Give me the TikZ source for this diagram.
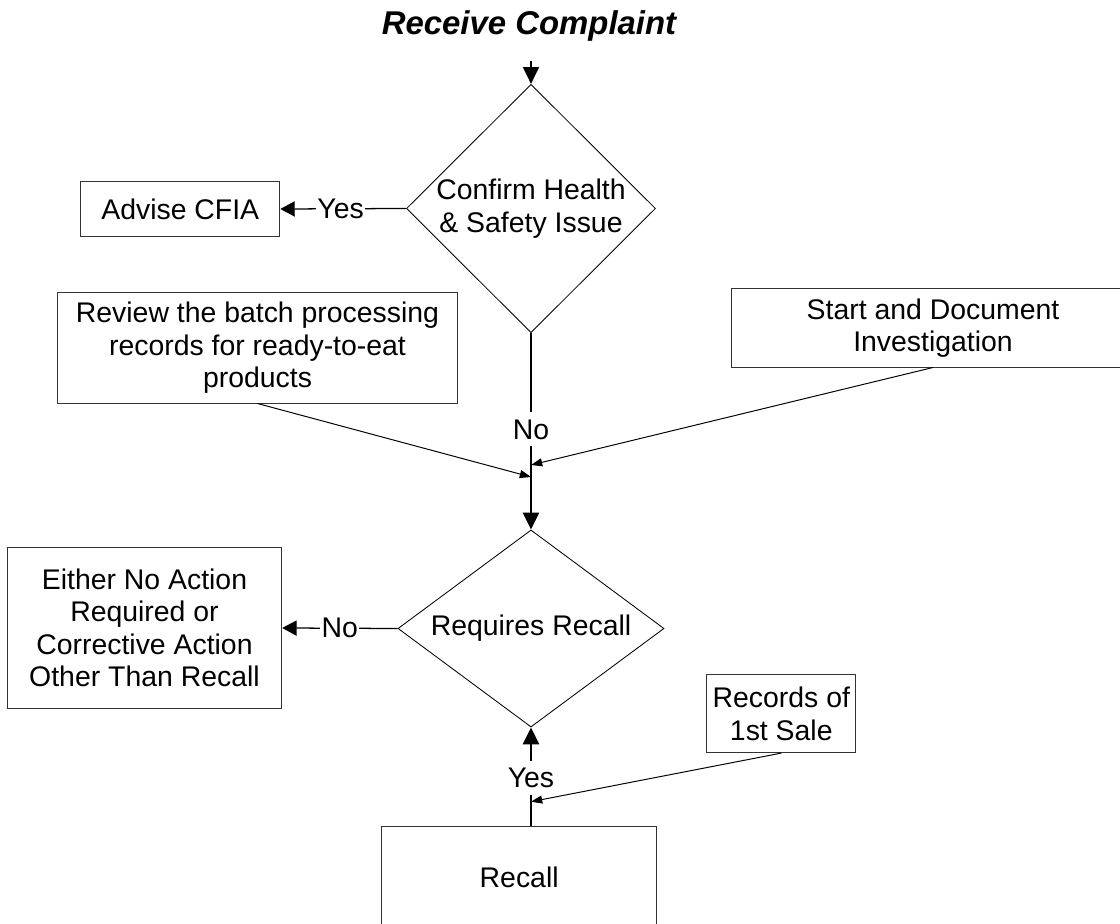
\documentclass[tikz,border=0pt]{standalone}
\usepackage{fontspec}
\setmainfont{Liberation Sans}
\usetikzlibrary{arrows.meta,shapes.geometric}

\begin{document}
\begin{tikzpicture}[x=0.025cm, y=-0.025cm,
	every node/.style={font=\fontsize{20.2pt}{23.1pt}\selectfont, align=center},
	box/.style={draw=black!80, line width=0.7pt, inner sep=0pt},
	choice/.style={draw, diamond, line width=0.6pt, inner sep=0pt},
	lbl/.style={fill=white, inner xsep=1pt, inner ysep=5pt},
	flow/.style={-{Triangle[length=0.42cm, width=0.4cm]}, line width=1.4pt},
	side/.style={-{Triangle[length=0.36cm, width=0.38cm]}, line width=0.9pt},
	feed/.style={-{Triangle[length=0.28cm, width=0.2cm]}, line width=0.7pt}]
	\useasboundingbox (0,0) rectangle (1120,924);
	\node[font=\fontsize{23.4pt}{27pt}\selectfont\bfseries\itshape, inner sep=0pt, anchor=base] (title) at (529,35) {Receive Complaint};
	\node[choice, minimum width=6.225cm, minimum height=6.2cm] (health) at (531,208.5) {Confirm Health\\\& Safety Issue};
	\node[box, minimum width=4.975cm, minimum height=1.375cm] (cfia) at (180.3,209) {Advise CFIA};
	\node[box, minimum width=9.975cm, minimum height=2.75cm] (review) at (257.5,348) {Review the batch processing\\records for ready-to-eat\\products};
	\node[box, minimum width=10.07cm, minimum height=1.95cm] (start) at (933,328) {Start and Document\\Investigation};
	\node[choice, aspect=1.35, minimum width=6.65cm, minimum height=4.925cm] (recallq) at (531,628.5) {Requires Recall};
	\node[box, minimum width=6.86cm, minimum height=4cm] (noaction) at (144.5,628) {Either No Action\\Required or\\Corrective Action\\Other Than Recall};
	\node[box, minimum width=3.73cm, minimum height=1.94cm] (sale) at (781.3,713.8) {Records of\\1st Sale};
	\node[box, minimum width=6.875cm, minimum height=2.5cm] (recall) at (519.2,877) {Recall};
	% points where the side inputs meet the main line
	\coordinate (inrev) at (531,477);
	\coordinate (instart) at (531,465);
	\coordinate (insale) at (531,801.7);
	\draw[flow, line width=1.1pt, shorten <=0.46cm] (health.north |- title.south) -- (health.north);
	\draw[side] (health.west) -- (cfia.east) node[lbl, pos=0.52] {Yes};
	\draw[flow] (health.south) -- (recallq.north) node[lbl, pos=0.49] {No};
	\draw[feed] (review.south) -- (inrev);
	\draw[feed] (start.south) -- (instart);
	\draw[side] (recallq.west) -- (noaction.east) node[lbl, pos=0.5] {No};
	\draw[flow] (recall.north -| recallq.south) -- (recallq.south) node[lbl, pos=0.49] {Yes};
	\draw[feed] (sale.south) -- (insale);
\end{tikzpicture}
\end{document}
